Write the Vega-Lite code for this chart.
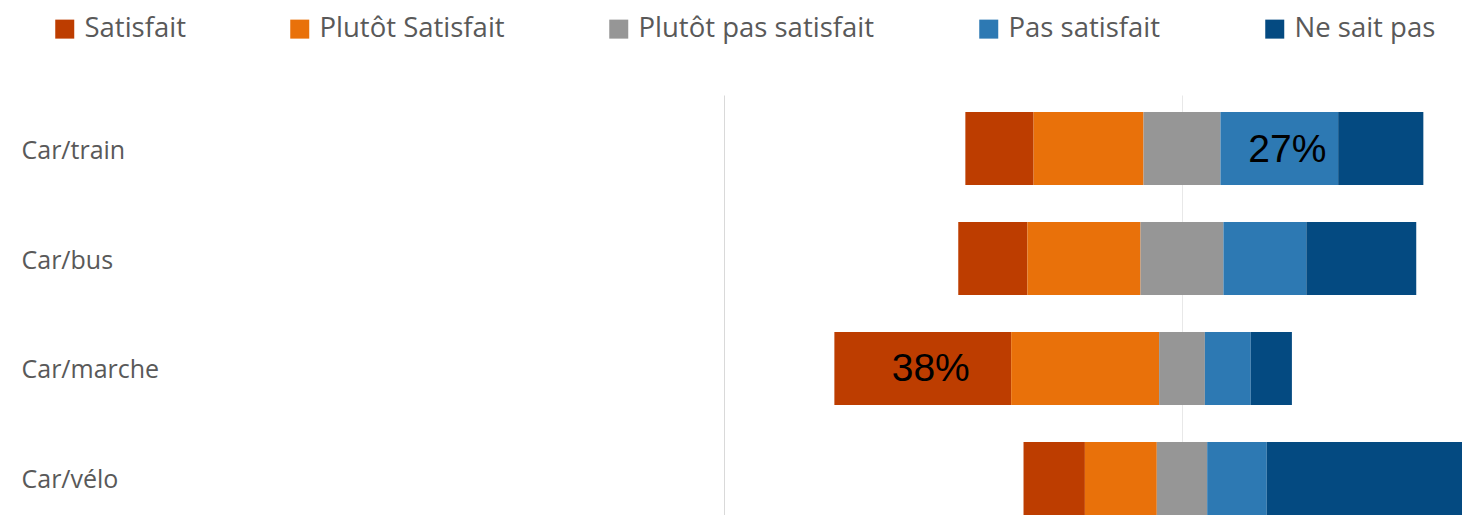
{
  "$schema": "https://vega.github.io/schema/vega-lite/v6.json",
  "autosize": {"type": "none"},
  "padding": {"left": 724, "top": 95, "right": 0, "bottom": 0},
  "width": 738,
  "height": 420,
  "background": "white",
  "config": {"view": {"stroke": null}},
  "data": {
    "values": [
      {"mode": "Car/train", "cat": "Satisfait", "order": 1, "value": 14.9},
      {"mode": "Car/train", "cat": "Plutôt Satisfait", "order": 2, "value": 24.0},
      {"mode": "Car/train", "cat": "Plutôt pas satisfait", "order": 3, "value": 16.8},
      {"mode": "Car/train", "cat": "Pas satisfait", "order": 4, "value": 25.7, "label": "27%"},
      {"mode": "Car/train", "cat": "Ne sait pas", "order": 5, "value": 18.6},
      {"mode": "Car/bus", "cat": "Satisfait", "order": 1, "value": 15.1},
      {"mode": "Car/bus", "cat": "Plutôt Satisfait", "order": 2, "value": 24.7},
      {"mode": "Car/bus", "cat": "Plutôt pas satisfait", "order": 3, "value": 18.1},
      {"mode": "Car/bus", "cat": "Pas satisfait", "order": 4, "value": 18.1},
      {"mode": "Car/bus", "cat": "Ne sait pas", "order": 5, "value": 24.0},
      {"mode": "Car/marche", "cat": "Satisfait", "order": 1, "value": 38.6, "label": "38%"},
      {"mode": "Car/marche", "cat": "Plutôt Satisfait", "order": 2, "value": 32.3},
      {"mode": "Car/marche", "cat": "Plutôt pas satisfait", "order": 3, "value": 10.0},
      {"mode": "Car/marche", "cat": "Pas satisfait", "order": 4, "value": 10.0},
      {"mode": "Car/marche", "cat": "Ne sait pas", "order": 5, "value": 9.0},
      {"mode": "Car/vélo", "cat": "Satisfait", "order": 1, "value": 13.4},
      {"mode": "Car/vélo", "cat": "Plutôt Satisfait", "order": 2, "value": 15.7},
      {"mode": "Car/vélo", "cat": "Plutôt pas satisfait", "order": 3, "value": 11.0},
      {"mode": "Car/vélo", "cat": "Pas satisfait", "order": 4, "value": 13.0},
      {"mode": "Car/vélo", "cat": "Ne sait pas", "order": 5, "value": 46.9}
    ]
  },
  "transform": [
    {"stack": "value", "groupby": ["mode"], "sort": [{"field": "order", "order": "ascending"}], "as": ["v0", "v1"]},
    {"calculate": "datum.cat === 'Plutôt pas satisfait' ? (datum.v0 + datum.v1) / 2 : 0", "as": "midpart"},
    {"joinaggregate": [{"op": "sum", "field": "midpart", "as": "mid"}], "groupby": ["mode"]},
    {"calculate": "datum.v0 - datum.mid", "as": "x0"},
    {"calculate": "datum.v1 - datum.mid", "as": "x1"},
    {"calculate": "(datum.x0 + datum.x1) / 2", "as": "xm"}
  ],
  "encoding": {
    "y": {
      "field": "mode",
      "type": "nominal",
      "sort": ["Car/train", "Car/bus", "Car/marche", "Car/vélo"],
      "scale": {"paddingInner": 0.336, "paddingOuter": 0.0773, "align": 1},
      "axis": {
        "title": null,
        "ticks": false,
        "domain": true,
        "domainColor": "#d9d9d9",
        "domainWidth": 1,
        "labelAlign": "left",
        "labelPadding": 703,
        "labelOffset": 2,
        "labelFont": "Open Sans",
        "labelFontSize": 25,
        "labelColor": "#595959",
        "labelBaseline": "middle"
      }
    }
  },
  "layer": [
    {
      "mark": {"type": "bar", "clip": true},
      "encoding": {
        "x": {
          "field": "x0",
          "type": "quantitative",
          "scale": {"domain": [-100, 61.14], "nice": false, "zero": false},
          "axis": {"title": null, "labels": false, "ticks": false, "domain": false, "grid": true, "values": [0], "gridColor": "#e8e8e8", "gridWidth": 1}
        },
        "x2": {"field": "x1"},
        "color": {
          "field": "cat",
          "type": "nominal",
          "scale": {
            "domain": ["Satisfait", "Plutôt Satisfait", "Plutôt pas satisfait", "Pas satisfait", "Ne sait pas"],
            "range": ["#bd3d00", "#e9710a", "#969696", "#2d79b3", "#044a81"]
          },
          "legend": {
            "title": null,
            "orient": "none",
            "direction": "horizontal",
            "legendX": -673,
            "legendY": -80,
            "padding": 0,
            "symbolType": "square",
            "symbolSize": 361,
            "symbolStrokeWidth": 0,
            "symbolOpacity": 1,
            "labelFont": "Open Sans",
            "labelFontSize": 27.5,
            "labelColor": "#595959",
            "labelOffset": 6,
            "columnPadding": 100,
            "labelLimit": 400
          }
        }
      }
    },
    {
      "transform": [{"filter": "datum.label != null"}],
      "mark": {"type": "text", "align": "center", "baseline": "middle", "dx": 8, "dy": 1, "font": "Liberation Sans", "fontSize": 39, "color": "black"},
      "encoding": {
        "x": {"field": "xm", "type": "quantitative"},
        "text": {"field": "label"}
      }
    }
  ]
}
